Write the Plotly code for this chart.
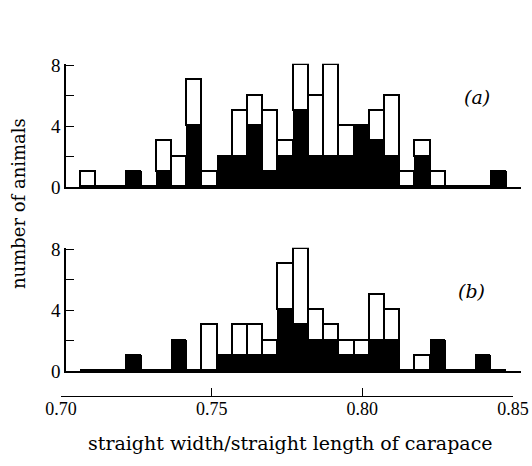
import plotly.graph_objects as go

# bin centres (ratio), bin width 0.005
bin_centers = [0.7095, 0.7145, 0.7195, 0.7245, 0.7295, 0.7345, 0.7395,
               0.7445, 0.7495, 0.7545, 0.7595, 0.7645, 0.7695, 0.7745,
               0.7795, 0.7845, 0.7895, 0.7945, 0.7995, 0.8045, 0.8095,
               0.8145, 0.8195, 0.8245, 0.8295, 0.8345, 0.8395, 0.8445]
bin_width = 0.005

# panel (a)
a_black = [0, 0, 0, 1, 0, 1, 0, 4, 0, 2, 2, 4, 1, 2, 5, 2, 2, 2, 4, 3, 2, 0, 2, 0, 0, 0, 0, 1]
a_white = [1, 0, 0, 0, 0, 2, 2, 3, 1, 0, 3, 2, 4, 1, 3, 4, 6, 2, 0, 2, 4, 1, 1, 1, 0, 0, 0, 0]
# panel (b)
b_black = [0, 0, 0, 1, 0, 0, 2, 0, 0, 1, 1, 1, 1, 4, 3, 2, 2, 1, 1, 2, 2, 0, 0, 2, 0, 0, 1, 0]
b_white = [0, 0, 0, 0, 0, 0, 0, 0, 3, 0, 2, 2, 1, 3, 5, 2, 1, 1, 1, 3, 2, 0, 1, 0, 0, 0, 0, 0]

x_ticks = [0.70, 0.75, 0.80, 0.85]
x_ticktext = ["0.70", "0.75", "0.80", "0.85"]
y_ticks = [0, 2, 4, 6, 8]
y_ticktext = ["0", "", "4", "", "8"]

FONT = "DejaVu Serif"
NUMFONT = "Liberation Serif"
W, H = 532, 466

def px(x):
    return x / W

def py(y):
    return 1 - y / H

fig = go.Figure()
for black, white, xa, ya in [(a_black, a_white, "x", "y"), (b_black, b_white, "x2", "y2")]:
    fig.add_trace(go.Bar(x=bin_centers, y=black, width=bin_width, xaxis=xa, yaxis=ya,
                         marker=dict(color="black", line=dict(color="black", width=1.2)),
                         showlegend=False, hoverinfo="skip"))
    fig.add_trace(go.Bar(x=bin_centers, y=white, width=bin_width, xaxis=xa, yaxis=ya,
                         marker=dict(color="white", line=dict(color="black", width=1.6)),
                         showlegend=False, hoverinfo="skip"))

# dummy trace for the labelled bottom axis
fig.add_trace(go.Scatter(x=[0.70, 0.85], y=[None, None], xaxis="x3", yaxis="y3",
                         mode="markers", showlegend=False, hoverinfo="skip"))

panel_range = [0.70217, 0.8517]
xdom = [px(66), px(521)]
YTOP = 8.08
unit = 122 / 8.0
common_x = dict(range=panel_range, domain=xdom, showline=True, linecolor="black",
                linewidth=1.6, showticklabels=False, ticks="", showgrid=False,
                zeroline=False, automargin=False)
common_y = dict(range=[0, YTOP], tickvals=y_ticks, ticktext=y_ticktext, ticks="inside",
                ticklen=8, tickwidth=1.3, tickcolor="black", showline=True,
                linecolor="black", linewidth=1.6, showgrid=False, zeroline=False,
                automargin=False,
                tickfont=dict(family=NUMFONT, size=19, color="black"))

fig.update_layout(
    width=W, height=H, margin=dict(l=0, r=0, t=0, b=0, autoexpand=False),
    paper_bgcolor="white", plot_bgcolor="white",
    barmode="stack", bargap=0,
    xaxis=dict(**common_x, anchor="y"),
    yaxis=dict(**common_y, domain=[py(187), py(187 - YTOP * unit)], anchor="x"),
    xaxis2=dict(**common_x, anchor="y2"),
    yaxis2=dict(**common_y, domain=[py(371), py(371 - YTOP * unit)], anchor="x2"),
    xaxis3=dict(range=[0.70, 0.85], domain=[px(61), px(513)], anchor="y3",
                tickvals=x_ticks, ticktext=x_ticktext, ticks="inside", ticklen=8,
                tickwidth=1.3, tickcolor="black", showline=True, linecolor="black",
                linewidth=1.3, showgrid=False, zeroline=False, automargin=False,
                ticklabelstandoff=-4,
                tickfont=dict(family=NUMFONT, size=18, color="black")),
    yaxis3=dict(domain=[py(396), py(390)], visible=False, anchor="x3"),
    annotations=[
        dict(text="<i>(a)</i>", x=px(477), y=py(97), xref="paper", yref="paper",
             xanchor="center", yanchor="middle",
             showarrow=False, font=dict(family=FONT, size=19, color="black")),
        dict(text="<i>(b)</i>", x=px(471), y=py(291), xref="paper", yref="paper",
             xanchor="center", yanchor="middle",
             showarrow=False, font=dict(family=FONT, size=19, color="black")),
        dict(text="straight width/straight length of carapace", x=px(290), y=py(443),
             xref="paper", yref="paper", showarrow=False,
             xanchor="center", yanchor="middle",
             font=dict(family=FONT, size=19, color="black")),
        dict(text="number of animals", x=px(19), y=py(204), xref="paper", yref="paper",
             showarrow=False, textangle=-90, xanchor="center", yanchor="middle",
             font=dict(family=FONT, size=18, color="black")),
    ],
)

fig.write_html("out.html", config={"displayModeBar": False},
               post_script="document.body.style.margin='0';")
